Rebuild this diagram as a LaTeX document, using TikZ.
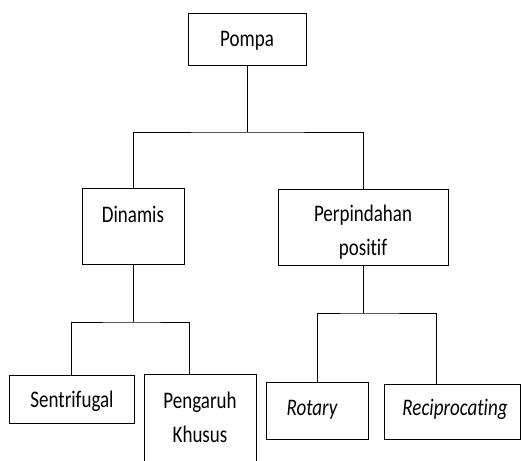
\documentclass[tikz,border=0pt]{standalone}
\usepackage{graphicx}
\usepackage{fontspec}
\setmainfont{Carlito}[Ligatures=NoCommon]
\newcommand{\vstr}[1]{\scalebox{1}[1.25]{#1}}
\begin{document}
\begin{tikzpicture}[x=1pt,y=-1pt,
  box/.style={draw=black,line width=0.9pt,rectangle,inner sep=0pt},
  lbl/.style={anchor=base,inner sep=0pt,font=\fontsize{19}{23}\selectfont},
  conn/.style={draw=black,line width=0.9pt}]
\useasboundingbox (0,0) rectangle (521,460);
% boxes
\node[box,minimum width=118pt,minimum height=52pt] (pompa) at (247,39) {};
\node[box,minimum width=102pt,minimum height=76pt] (din) at (133,226) {};
\node[box,minimum width=170pt,minimum height=76pt] (perp) at (363,227) {};
\node[box,minimum width=125pt,minimum height=48pt] (sent) at (71.5,399) {};
\node[box,minimum width=112pt,minimum height=100pt] (peng) at (200,424) {};
\node[box,minimum width=102pt,minimum height=57pt] (rot) at (317,410.5) {};
\node[box,minimum width=136pt,minimum height=55pt] (rec) at (452.5,411.5) {};
% labels
\node[lbl] (tpompa) at (247,46.5) {\vstr{Pompa}};
\node[lbl] (tdin) at (133,222) {\vstr{Dinamis}};
\node[lbl] (tperp1) at (363,221) {\vstr{Perpindahan}};
\node[lbl] (tperp2) at (363,255) {\vstr{positif}};
\node[lbl] (tsent) at (72,407.5) {\vstr{Sentrifugal}};
\node[lbl] (tpeng1) at (200,408) {\vstr{Pengaruh}};
\node[lbl] (tpeng2) at (200,442) {\vstr{Khusus}};
\node[lbl] (trot) at (312,415) {\vstr{\itshape Rotary}};
\node[lbl] (trec) at (455,415) {\vstr{\itshape Reciprocating}};
% connectors
\coordinate (j1) at (247,132);
\coordinate (j2) at (133,322);
\coordinate (j3) at (363,313);
\draw[conn] (pompa.south) -- (j1);
\draw[conn] (din.north) |- (j1) -| (perp.north);
\draw[conn] (din.south) -- (j2);
\draw[conn] (sent.north) |- (j2) -| ([xshift=-11pt]peng.north);
\draw[conn] (perp.south) -- (j3);
\draw[conn] (rot.north) |- (j3) -| ([xshift=-16.5pt]rec.north);
\end{tikzpicture}
\end{document}
